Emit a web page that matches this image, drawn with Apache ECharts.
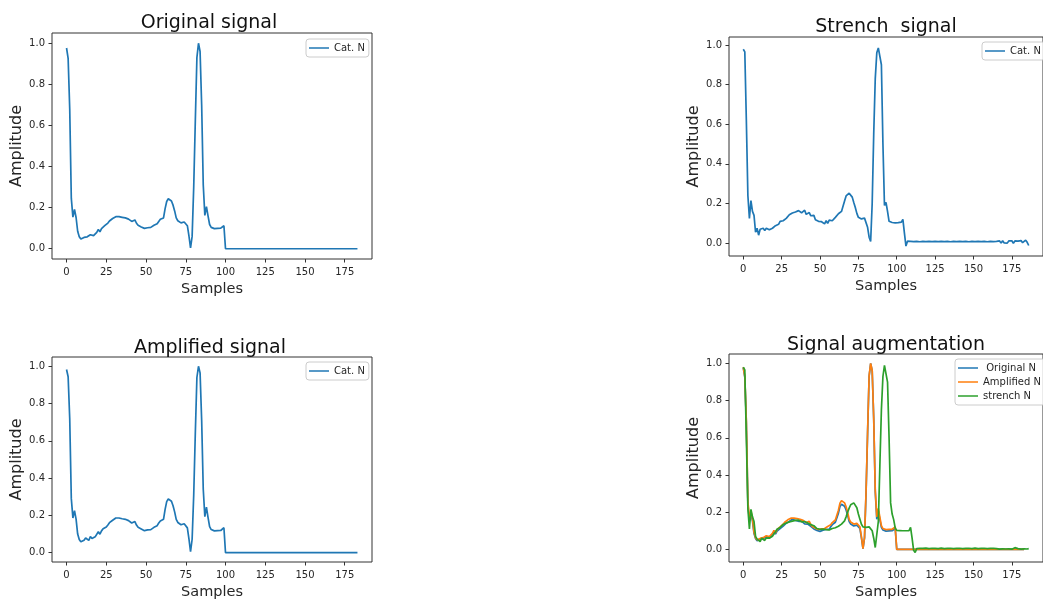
<!DOCTYPE html>
<html>
<head>
<meta charset="utf-8">
<script src="https://cdn.jsdelivr.net/npm/echarts@6/dist/echarts.min.js"></script>
<style>
  html, body { margin: 0; padding: 0; background: #fff; }
  #main { width: 1043px; height: 601px; }
</style>
</head>
<body>
<div id="main"></div>
<script>
// values, index = sample number
const originalN = [
  0.977, 0.926, 0.681, 0.245, 0.154, 0.191, 0.152, 0.085, 0.058, 0.047,
  0.045, 0.055, 0.062, 0.058, 0.050, 0.068, 0.060, 0.064, 0.070, 0.080,
  0.094, 0.082, 0.098, 0.107, 0.112, 0.116, 0.125, 0.135, 0.141, 0.147,
  0.150, 0.156, 0.162, 0.156, 0.155, 0.153, 0.151, 0.150, 0.152, 0.144,
  0.137, 0.133, 0.136, 0.140, 0.124, 0.114, 0.110, 0.106, 0.102, 0.099,
  0.097, 0.102, 0.103, 0.104, 0.108, 0.114, 0.107, 0.122, 0.133, 0.143,
  0.146, 0.150, 0.195, 0.230, 0.243, 0.246, 0.232, 0.212, 0.184, 0.150,
  0.136, 0.130, 0.126, 0.124, 0.130, 0.125, 0.112, 0.062, 0.004, 0.060,
  0.300, 0.620, 0.930, 1.000, 0.960, 0.700, 0.310, 0.162, 0.205, 0.160,
  0.118, 0.104, 0.100, 0.098, 0.100, 0.099, 0.101, 0.100, 0.098, 0.112,
  0, 0, 0, 0, 0, 0, 0, 0, 0, 0, 0, 0, 0, 0, 0, 0, 0, 0, 0, 0, 0,
  0, 0, 0, 0, 0, 0, 0, 0, 0, 0, 0, 0, 0, 0, 0, 0, 0, 0, 0, 0, 0,
  0, 0, 0, 0, 0, 0, 0, 0, 0, 0, 0, 0, 0, 0, 0, 0, 0, 0, 0, 0, 0,
  0, 0, 0, 0, 0, 0, 0, 0, 0, 0, 0, 0, 0, 0, 0, 0, 0, 0, 0, 0, 0
]

const amplifiedN = [
  0.983, 0.944, 0.720, 0.290, 0.186, 0.226, 0.180, 0.100, 0.071, 0.058,
  0.055, 0.067, 0.079, 0.072, 0.066, 0.087, 0.076, 0.078, 0.085, 0.095,
  0.112, 0.099, 0.117, 0.128, 0.134, 0.138, 0.149, 0.161, 0.168, 0.174,
  0.178, 0.186, 0.193, 0.186, 0.185, 0.182, 0.180, 0.179, 0.181, 0.172,
  0.164, 0.159, 0.162, 0.167, 0.148, 0.136, 0.131, 0.127, 0.122, 0.118,
  0.116, 0.122, 0.123, 0.124, 0.129, 0.136, 0.128, 0.145, 0.159, 0.170,
  0.174, 0.179, 0.232, 0.274, 0.289, 0.293, 0.276, 0.252, 0.219, 0.179,
  0.162, 0.155, 0.150, 0.148, 0.155, 0.149, 0.133, 0.074, 0.005, 0.072,
  0.310, 0.640, 0.940, 1.000, 0.965, 0.710, 0.340, 0.193, 0.244, 0.190,
  0.140, 0.124, 0.119, 0.117, 0.119, 0.118, 0.120, 0.119, 0.117, 0.134,
  0, 0, 0, 0, 0, 0, 0, 0, 0, 0, 0, 0, 0, 0, 0, 0, 0, 0, 0, 0, 0,
  0, 0, 0, 0, 0, 0, 0, 0, 0, 0, 0, 0, 0, 0, 0, 0, 0, 0, 0, 0, 0,
  0, 0, 0, 0, 0, 0, 0, 0, 0, 0, 0, 0, 0, 0, 0, 0, 0, 0, 0, 0, 0,
  0, 0, 0, 0, 0, 0, 0, 0, 0, 0, 0, 0, 0, 0, 0, 0, 0, 0, 0, 0, 0
]

const strenchN = [
  0.978, 0.965, 0.620, 0.240, 0.125, 0.215, 0.160, 0.140, 0.055, 0.075,
  0.040, 0.070, 0.060, 0.075, 0.063, 0.075, 0.065, 0.067, 0.070, 0.075,
  0.080, 0.088, 0.085, 0.095, 0.110, 0.116, 0.113, 0.112, 0.125, 0.134,
  0.143, 0.148, 0.152, 0.160, 0.157, 0.157, 0.164, 0.160, 0.153, 0.155,
  0.166, 0.145, 0.148, 0.154, 0.138, 0.137, 0.140, 0.118, 0.112, 0.110,
  0.109, 0.108, 0.104, 0.097, 0.113, 0.100, 0.116, 0.112, 0.113, 0.122,
  0.130, 0.138, 0.148, 0.155, 0.160, 0.168, 0.212, 0.238, 0.248, 0.252,
  0.243, 0.232, 0.205, 0.180, 0.150, 0.130, 0.126, 0.122, 0.124, 0.126,
  0.116, 0.080, 0.030, 0.008, 0.200, 0.550, 0.830, 0.960, 0.985, 0.990,
  0.900, 0.500, 0.190, 0.205, 0.160, 0.110, 0.105, 0.104, 0.105, 0.102,
  0.104, 0.103, 0.104, 0.106, 0.120, 0.050, -0.015, 0.010,
  0.002, 0.009, 0.003, 0.008, 0.002, 0.009, 0.003, 0.007, 0.002, 0.009,
  0.003, 0.008, 0.002, 0.009, 0.003, 0.008, 0.003, 0.009, 0.002, 0.008,
  0.003, 0.009, 0.002, 0.008, 0.003, 0.009, 0.003, 0.007, 0.002, 0.009,
  0.003, 0.008, 0.002, 0.009, 0.003, 0.008, 0.002, 0.009, 0.003, 0.007,
  0.003, 0.009, 0.002, 0.008, 0.003, 0.009, 0.002, 0.008, 0.003, 0.009,
  0.002, 0.007, 0.003, 0.009, 0.002, 0.008, 0.003, 0.009, 0.001, 0.011,
  0.000, 0.012, 0.001, 0.010, 0.000, 0.011, 0.002, 0.012, -0.001, 0.011,
  0.001, 0.010, 0.000, 0.013, 0.002, 0.009, 0.015, 0.004, -0.012
]

// bottom right panel
const augOriginalN = originalN

const augAmplifiedN = [
  0.980, 0.930, 0.690, 0.260, 0.166, 0.205, 0.164, 0.092, 0.063, 0.051,
  0.049, 0.059, 0.067, 0.063, 0.054, 0.073, 0.065, 0.069, 0.076, 0.086,
  0.102, 0.089, 0.106, 0.116, 0.121, 0.125, 0.135, 0.146, 0.152, 0.159,
  0.162, 0.168, 0.175, 0.168, 0.167, 0.165, 0.163, 0.162, 0.164, 0.156,
  0.148, 0.144, 0.147, 0.151, 0.134, 0.123, 0.119, 0.114, 0.110, 0.107,
  0.105, 0.110, 0.111, 0.112, 0.117, 0.123, 0.116, 0.132, 0.144, 0.154,
  0.158, 0.162, 0.211, 0.248, 0.262, 0.266, 0.250, 0.229, 0.199, 0.162,
  0.147, 0.140, 0.136, 0.134, 0.140, 0.135, 0.121, 0.067, 0.004, 0.065,
  0.310, 0.630, 0.935, 1.000, 0.962, 0.705, 0.320, 0.175, 0.221, 0.173,
  0.127, 0.112, 0.108, 0.106, 0.108, 0.107, 0.109, 0.108, 0.106, 0.121,
  0, 0, 0, 0, 0, 0, 0, 0, 0, 0, 0, 0, 0, 0, 0, 0, 0, 0, 0, 0, 0,
  0, 0, 0, 0, 0, 0, 0, 0, 0, 0, 0, 0, 0, 0, 0, 0, 0, 0, 0, 0, 0,
  0, 0, 0, 0, 0, 0, 0, 0, 0, 0, 0, 0, 0, 0, 0, 0, 0, 0, 0, 0, 0,
  0, 0, 0, 0, 0, 0, 0, 0, 0, 0, 0, 0, 0, 0, 0, 0, 0, 0, 0, 0, 0
]

const augStrenchN = [
  0.980, 0.965, 0.600, 0.220, 0.110, 0.215, 0.175, 0.150, 0.070, 0.055,
  0.045, 0.042, 0.060, 0.050, 0.048, 0.062, 0.065, 0.060, 0.066, 0.070,
  0.083, 0.095, 0.108, 0.112, 0.118, 0.125, 0.134, 0.138, 0.142, 0.147,
  0.148, 0.150, 0.152, 0.153, 0.156, 0.155, 0.157, 0.152, 0.148, 0.144,
  0.150, 0.153, 0.142, 0.136, 0.133, 0.130, 0.127, 0.122, 0.112, 0.106,
  0.108, 0.110, 0.109, 0.104, 0.106, 0.104, 0.105, 0.110, 0.112, 0.113,
  0.116, 0.118, 0.124, 0.130, 0.136, 0.142, 0.153, 0.175, 0.200, 0.222,
  0.240, 0.248, 0.250, 0.245, 0.224, 0.190, 0.162, 0.135, 0.121, 0.120,
  0.118, 0.120, 0.121, 0.115, 0.100, 0.060, 0.010, 0.020, 0.150, 0.450,
  0.750, 0.930, 0.990, 0.995, 0.900, 0.600, 0.250, 0.190, 0.160, 0.115,
  0.102, 0.100, 0.101, 0.099, 0.100, 0.101, 0.100, 0.099, 0.101, 0.118,
  0.060, -0.005, -0.017,
  0.004, 0.002, 0.006, 0.003, 0.005, 0.002, 0.007, 0.003, 0.004, 0.002,
  0.006, 0.003, 0.005, 0.002, 0.004, 0.003, 0.007, 0.002, 0.004, 0.003,
  0.005, 0.002, 0.006, 0.003, 0.004, 0.002, 0.005, 0.003, 0.006, 0.002,
  0.004, 0.003, 0.005, 0.002, 0.006, 0.003, 0.004, 0.002, 0.007, 0.003,
  0.004, 0.002, 0.005, 0.003, 0.006, 0.002, 0.004, 0.003, 0.005, 0.002,
  0.006, 0.003, 0.004, 0.008, 0.001, 0.006, 0.003, 0.007, 0.002, 0.005,
  0.003, 0.008, 0.001, 0.006, 0.009, 0.002, 0.004, 0.007, 0.001, 0.005,
  0.003, 0.006, 0.002, 0.004
]

const xTicks = [0, 25, 50, 75, 100, 125, 150, 175]
const yTicks = [0, 0.2, 0.4, 0.6, 0.8, 1.0]

const FONT = 'DejaVu Sans'
const INK = '#262626'
const BLUE = '#1f77b4'
const ORANGE = '#ff7f0e'
const GREEN = '#2ca02c'

function pts(arr) {
	return arr.map(function (v, i) { return [i, v] })
}

function xAxis(idx, min, max) {
	return {
		type: 'value',
		gridIndex: idx,
		min: min,
		max: max,
		name: 'Samples',
		nameLocation: 'middle',
		nameGap: 23,
		nameTextStyle: { fontFamily: FONT, fontSize: 14.5, color: INK },
		axisLine: { show: false, onZero: false },
		axisTick: { show: true, length: 3.5, customValues: xTicks, lineStyle: { color: '#333' } },
		axisLabel: { customValues: xTicks, margin: 8, fontFamily: FONT, fontSize: 10, color: INK },
		splitLine: { show: false }
	}
}

function yAxis(idx, min, max) {
	return {
		type: 'value',
		gridIndex: idx,
		min: min,
		max: max,
		name: 'Amplitude',
		nameLocation: 'middle',
		nameRotate: 90,
		nameGap: 27,
		nameTextStyle: { fontFamily: FONT, fontSize: 16, color: INK },
		axisLine: { show: false, onZero: false },
		axisTick: { show: true, length: 3.5, customValues: yTicks, lineStyle: { color: '#333' } },
		axisLabel: {
			customValues: yTicks,
			margin: 7,
			fontFamily: FONT,
			fontSize: 10,
			color: INK,
			formatter: function (v) { return v.toFixed(1) }
		},
		splitLine: { show: false }
	}
}

function line(name, data, color, idx) {
	return {
		name: name,
		type: 'line',
		xAxisIndex: idx,
		yAxisIndex: idx,
		data: pts(data),
		showSymbol: false,
		symbol: 'none',
		lineStyle: { width: 1.7, color: color },
		itemStyle: { color: color },
		silent: true
	}
}

function legend(names, left, top) {
	return {
		data: names,
		left: left,
		top: top,
		orient: 'vertical',
		icon: 'rect',
		itemWidth: 20,
		itemHeight: 1.5,
		itemGap: 2,
		padding: [3, 4, 3, 3],
		backgroundColor: 'rgba(255,255,255,0.8)',
		borderColor: '#cccccc',
		borderWidth: 1,
		borderRadius: 3,
		textStyle: { fontFamily: FONT, fontSize: 10, color: INK, lineHeight: 12 }
	}
}

function title(text, x, y) {
	return {
		text: text,
		left: x,
		top: y,
		textAlign: 'center',
		padding: 0,
		textStyle: { fontFamily: FONT, fontSize: 19, fontWeight: 'normal', color: '#111' }
	}
}

const gridStyle = { show: true, borderColor: '#333', borderWidth: 1, backgroundColor: 'transparent' }

const option = {
	animation: false,
	backgroundColor: '#fff',
	title: [
		title('Original signal', 209, 14),
		title('Strench  signal', 886, 18),
		title('Amplified signal', 210, 339),
		title('Signal augmentation', 886, 336)
	],
	grid: [
		Object.assign({ left: 52, top: 33, width: 320, height: 226 }, gridStyle),
		Object.assign({ left: 729, top: 37, width: 321, height: 219 }, gridStyle),
		Object.assign({ left: 52, top: 357, width: 320, height: 207 }, gridStyle),
		Object.assign({ left: 729, top: 354, width: 321, height: 214 }, gridStyle)
	],
	xAxis: [
		xAxis(0, -9.15, 192.15),
		xAxis(1, -9.3, 195.3),
		xAxis(2, -9.15, 192.15),
		xAxis(3, -9.3, 195.3)
	],
	yAxis: [
		yAxis(0, -0.05, 1.05),
		yAxis(1, -0.065, 1.04),
		yAxis(2, -0.05, 1.05),
		yAxis(3, -0.068, 1.051)
	],
	legend: [
		legend(['Cat. N'], 306, 39),
		legend(['Cat. N'], 982, 42),
		legend(['Cat. N'], 306, 362),
		legend([' Original N', 'Amplified N', 'strench N'], 955, 359)
	],
	series: [
		line('Cat. N', originalN, BLUE, 0),
		line('Cat. N', strenchN, BLUE, 1),
		line('Cat. N', amplifiedN, BLUE, 2),
		line(' Original N', augOriginalN, BLUE, 3),
		line('Amplified N', augAmplifiedN, ORANGE, 3),
		line('strench N', augStrenchN, GREEN, 3)
	]
}

const chart = echarts.init(document.getElementById('main'))
chart.setOption(option)
</script>
</body>
</html>
